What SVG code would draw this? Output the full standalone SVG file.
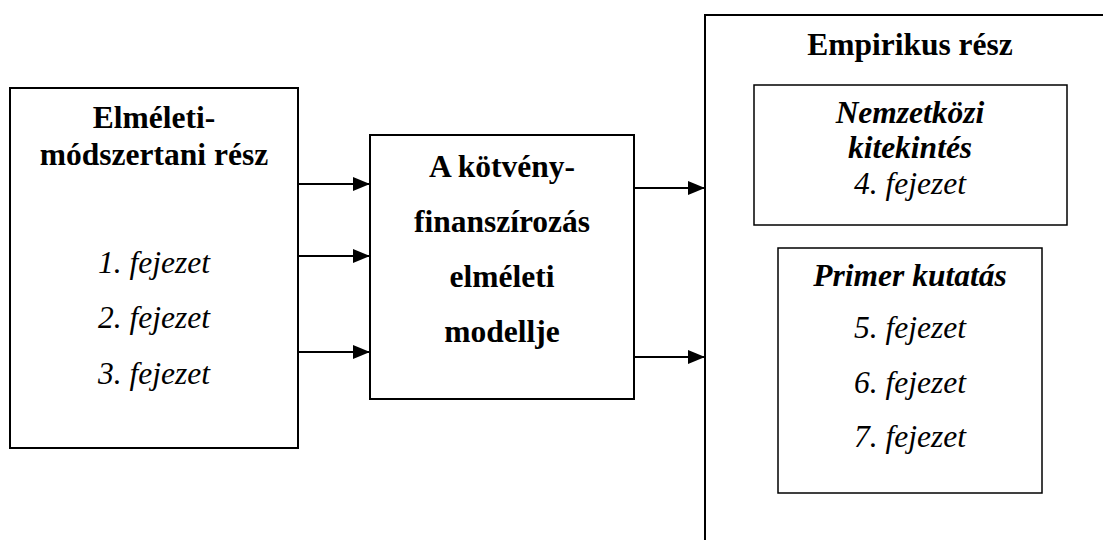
<svg xmlns="http://www.w3.org/2000/svg" width="1103" height="540" viewBox="0 0 1103 540">
<defs>
<marker id="ah" markerWidth="17" markerHeight="14" refX="17" refY="7" orient="auto" markerUnits="userSpaceOnUse"><path d="M0,0 L17,7 L0,14 Z" fill="#000"/></marker>
<style>
.box{fill:#fff;stroke:#000;stroke-width:2}
.inner{fill:#fff;stroke:#000;stroke-width:1.5}
text{font-family:'Liberation Serif','DejaVu Serif',serif;font-size:31.5px;text-anchor:middle;fill:#000}
.b{font-weight:bold}
.i{font-style:italic}
.c{stroke:#000;stroke-width:2;fill:none;marker-end:url(#ah)}
</style>
</defs>
<g id="node-elmeleti">
<rect class="box" x="10" y="88" width="288" height="360"/>
<text class="b" x="154" y="128">Elméleti-</text>
<text class="b" x="154" y="165">módszertani rész</text>
<text class="i" x="154" y="273">1. fejezet</text>
<text class="i" x="154" y="328">2. fejezet</text>
<text class="i" x="154" y="384">3. fejezet</text>
</g>
<g id="node-modell">
<rect class="box" x="370" y="135" width="264" height="264"/>
<text class="b" x="502" y="177">A kötvény-</text>
<text class="b" x="502" y="232">finanszírozás</text>
<text class="b" x="502" y="287">elméleti</text>
<text class="b" x="502" y="342">modellje</text>
</g>
<g id="node-empirikus">
<rect class="box" x="705" y="15" width="420" height="560"/>
<text class="b" x="910" y="55">Empirikus rész</text>
</g>
<g id="node-nemzetkozi">
<rect class="inner" x="754" y="85" width="313" height="140"/>
<text class="b i" x="910" y="123">Nemzetközi</text>
<text class="b i" x="910" y="158">kitekintés</text>
<text class="i" x="910" y="194">4. fejezet</text>
</g>
<g id="node-primer">
<rect class="inner" x="778" y="248" width="264" height="245"/>
<text class="b i" x="910" y="286">Primer kutatás</text>
<text class="i" x="910" y="338">5. fejezet</text>
<text class="i" x="910" y="393">6. fejezet</text>
<text class="i" x="910" y="447">7. fejezet</text>
</g>
<g id="connectors">
<line class="c" x1="298" y1="184" x2="370" y2="184"/>
<line class="c" x1="298" y1="256" x2="370" y2="256"/>
<line class="c" x1="298" y1="352" x2="370" y2="352"/>
<line class="c" x1="634" y1="188" x2="705" y2="188"/>
<line class="c" x1="634" y1="357" x2="705" y2="357"/>
</g>
</svg>
